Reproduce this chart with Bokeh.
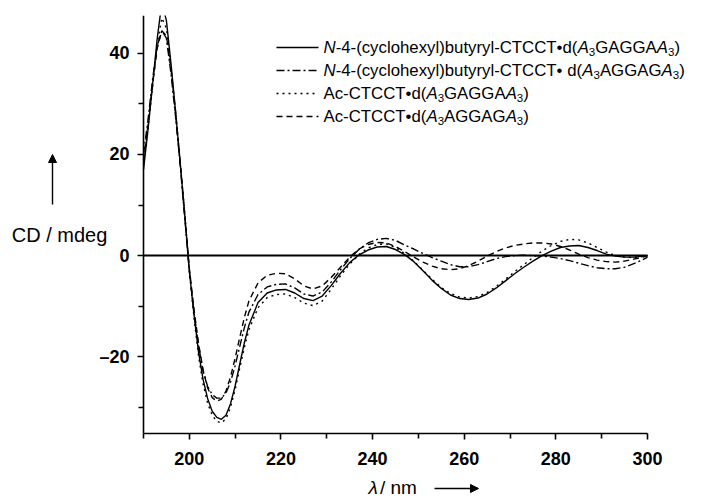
from bokeh.plotting import figure
from bokeh.models import Range1d, FixedTicker, Label, Arrow, NormalHead
from bokeh.embed import file_html
from bokeh.resources import INLINE

# ---------------- data ----------------
wl = list(range(190, 213)) + list(range(213, 300, 2)) + [300]

cd_solid = [17, 25, 34, 43, 50, 46.5, 38, 28.5, 18.5, 8, -3, -11.5, -19, -24.5, -28.3, -30.8, -32, -32.4, -31.6, -29.3, -25.8, -21.5, -17.3,
            -13.8, -9.3, -7.4, -6.8, -6.7, -7.4, -8.5, -8.9, -8.0, -5.9,
            -3.5, -1.4, 0.1, 1.1, 1.7, 1.8, 1.2, 0.2, -1.2, -3.0,
            -4.9, -6.5, -7.8, -8.5, -8.7, -8.4, -7.6, -6.4, -5.0, -3.6,
            -2.3, -1.1, 0.0, 0.9, 1.6, 1.9, 2.0, 1.6, 1.0, 0.3,
            -0.1, -0.3, -0.3, -0.1, 0]

cd_dashdot = [20, 27, 35, 41.5, 44.5, 43, 36, 27.5, 18, 7.5, -3, -11, -17.8, -22.8, -25.9, -27.5, -28.2, -28.2, -27.2, -25, -21.8, -18, -14.3,
              -11.2, -7.7, -6.2, -5.7, -5.6, -6.4, -7.6, -8.0, -7.2, -5.2,
              -2.8, -0.6, 1.2, 2.5, 3.2, 3.4, 3.0, 2.1, 1.3, 0.4,
              -0.4, -1.1, -1.8, -2.2, -2.2, -1.8, -1.2, -0.6, -0.2, 0.0,
              0.1, 0.0, -0.1, -0.3, -0.6, -1.0, -1.5, -2.0, -2.4, -2.6,
              -2.6, -2.3, -1.6, -0.8, -0.3]

cd_dotted = [18, 25.5, 33.5, 42, 47, 45, 37, 28, 18.5, 8.5, -3, -12, -19.8, -25.4, -29.2, -31.6, -32.8, -33.1, -32.3, -30, -26.5, -22.3, -18.2,
             -14.7, -10.3, -8.3, -7.7, -7.6, -8.3, -9.4, -9.9, -9.0, -6.6,
             -4.0, -1.7, 0.2, 1.5, 2.2, 2.3, 1.6, 0.4, -1.1, -2.9,
             -4.7, -6.3, -7.5, -8.2, -8.4, -8.1, -7.3, -6.1, -4.7, -3.2,
             -1.8, -0.4, 0.9, 2.0, 2.8, 3.2, 3.1, 2.5, 1.6, 0.7,
             0.0, -0.3, -0.4, -0.2, 0]

cd_dashed = [19, 26, 34, 41, 44.5, 43.5, 37, 28.5, 18.5, 8, -2.5, -10.5, -17.3, -22.6, -26.2, -28.1, -28.8, -28.4, -26.8, -24, -20.3, -16.2, -12.3,
             -9.0, -5.4, -3.9, -3.5, -3.6, -4.6, -6.0, -6.6, -6.0, -4.3,
             -2.3, -0.3, 1.3, 2.2, 2.6, 2.5, 1.8, 0.8, -0.3, -1.3,
             -2.1, -2.6, -2.8, -2.6, -2.0, -1.1, -0.1, 0.8, 1.5, 2.0,
             2.3, 2.5, 2.5, 2.3, 1.8, 1.1, 0.3, -0.4, -0.9, -1.2,
             -1.3, -1.1, -0.7, -0.3, 0]

x_major = [200, 220, 240, 260, 280, 300]
x_minor = [190, 210, 230, 250, 270, 290]
y_major = [-20, 0, 20, 40]
y_minor = [-30, -10, 10, 30]
y_labels = {-20: "\u201320", 0: "0", 20: "20", 40: "40"}

# legend texts as runs: (text, style) style in n / i / s(ubscript)
legend_rows = [
    [("N", "i"), ("-4-(cyclohexyl)butyryl-CTCCT\u2022d(", "n"), ("A", "i"), ("3", "s"),
     ("GAGGA", "n"), ("A", "i"), ("3", "s"), (")", "n")],
    [("N", "i"), ("-4-(cyclohexyl)butyryl-CTCCT\u2022 d(", "n"), ("A", "i"), ("3", "s"),
     ("AGGAG", "n"), ("A", "i"), ("3", "s"), (")", "n")],
    [("Ac-CTCCT\u2022d(", "n"), ("A", "i"), ("3", "s"),
     ("GAGGA", "n"), ("A", "i"), ("3", "s"), (")", "n")],
    [("Ac-CTCCT\u2022d(", "n"), ("A", "i"), ("3", "s"),
     ("AGGAG", "n"), ("A", "i"), ("3", "s"), (")", "n")],
]
series = [cd_solid, cd_dashdot, cd_dotted, cd_dashed]
dashes = ["solid", "8 3 2 3", "2 4", "6 4"]

# ---------------- layout ----------------
W, H = 707, 500
X0, X1 = 190, 300          # axis extent
Y0, Y1 = -35.2, 47.5
AX_L, AX_R, AX_T, AX_B = 143, 647, 15, 433   # axis pixel positions on the canvas
KX = (AX_R - AX_L) / (X1 - X0)
KY = (AX_B - AX_T) / (Y1 - Y0)
XS = X0 - AX_L / KX
XE = X1 + (W - AX_R) / KX
YS = Y0 - (H - AX_B) / KY
FONT = "Liberation Sans"

def dx(px):  # canvas pixel -> data x
    return XS + px / KX

def dy(py):  # canvas pixel -> data y
    return Y1 - (py - AX_T) / KY

p = figure(width=W, height=H, output_backend="svg", toolbar_location=None,
           x_range=Range1d(XS, XE), y_range=Range1d(YS, Y1),
           min_border_left=0, min_border_right=0, min_border_top=AX_T, min_border_bottom=0)
p.outline_line_color = None
p.grid.visible = False
p.background_fill_color = "white"
p.border_fill_color = "white"

p.xaxis.fixed_location = Y0
p.yaxis.fixed_location = X0
p.xaxis.bounds = (X0, X1)
p.yaxis.bounds = (Y0, Y1)

for ax, maj, mn in ((p.xaxis[0], x_major, x_minor), (p.yaxis[0], y_major, y_minor)):
    ax.ticker = FixedTicker(ticks=maj, minor_ticks=mn)
    ax.axis_line_width = 1.6
    ax.axis_line_color = "black"
    ax.major_tick_line_width = 1.6
    ax.minor_tick_line_width = 1.6
    ax.major_tick_line_color = "black"
    ax.minor_tick_line_color = "black"
    ax.major_tick_out = 6
    ax.major_tick_in = 0
    ax.minor_tick_out = 5
    ax.minor_tick_in = 0
    ax.major_label_text_font = FONT
    ax.major_label_text_font_style = "bold"
    ax.major_label_text_font_size = "18px"
    ax.major_label_text_color = "black"
p.xaxis.major_label_standoff = 12
p.yaxis.major_label_standoff = 8
p.yaxis.major_label_overrides = y_labels

# zero line
p.line([X0, X1], [0, 0], line_color="black", line_width=2)

for ys, dash in zip(series, dashes):
    p.line(wl, ys, line_color="black", line_width=1.4, line_dash=dash)

# ---------------- legend ----------------
AW = {" ": 278, "(": 333, ")": 333, "-": 333, "3": 556, "4": 556, "A": 667, "C": 722,
      "G": 778, "N": 722, "T": 611, "b": 556, "c": 500, "d": 556, "e": 556, "h": 556,
      "l": 222, "o": 556, "r": 333, "t": 278, "u": 556, "x": 500, "y": 500, "\u2022": 350,
      "/": 278, "m": 833, "n": 556, "\u03bb": 500}

def tw(s, size):
    return sum(AW.get(c, 556) for c in s) * size / 1000.0

LF = 16.8
SF = 11.5
row_y = [47, 70, 93, 116]
for runs, yrow, dash in zip(legend_rows, row_y, dashes):
    p.line([dx(276), dx(318)], [dy(yrow), dy(yrow)], line_color="black",
           line_width=1.4, line_dash=dash)
    xpos = 323
    for txt, st in runs:
        size = SF if st == "s" else LF
        yc = yrow + 4 if st == "s" else yrow
        p.add_layout(Label(x=dx(xpos), y=dy(yc), text=txt, text_font=FONT,
                           text_font_size=f"{size}px", text_baseline="middle",
                           text_font_style="italic" if st == "i" else "normal",
                           text_color="black"))
        xpos += tw(txt, size)

# ---------------- axis titles ----------------
p.add_layout(Label(x=dx(59), y=dy(234), text="CD / mdeg", text_font=FONT,
                   text_font_size="20px", text_align="center", text_baseline="middle",
                   text_color="black"))
p.add_layout(Arrow(end=NormalHead(size=8, fill_color="black", line_color="black"),
                   x_start=dx(52), y_start=dy(204), x_end=dx(52), y_end=dy(154),
                   line_color="black", line_width=1.4))

lx = 368
p.add_layout(Label(x=dx(lx), y=dy(487), text="\u03bb", text_font=FONT,
                   text_font_size="19px", text_font_style="italic", text_align="left",
                   text_baseline="middle", text_color="black"))
p.add_layout(Label(x=dx(lx + tw("\u03bb", 19) + 2), y=dy(487), text=" / nm", text_font=FONT,
                   text_font_size="19px", text_align="left",
                   text_baseline="middle", text_color="black"))
p.add_layout(Arrow(end=NormalHead(size=8, fill_color="black", line_color="black"),
                   x_start=dx(434), y_start=dy(488), x_end=dx(478), y_end=dy(488),
                   line_color="black", line_width=1.4))

open("out.html", "w").write(file_html(p, INLINE))
